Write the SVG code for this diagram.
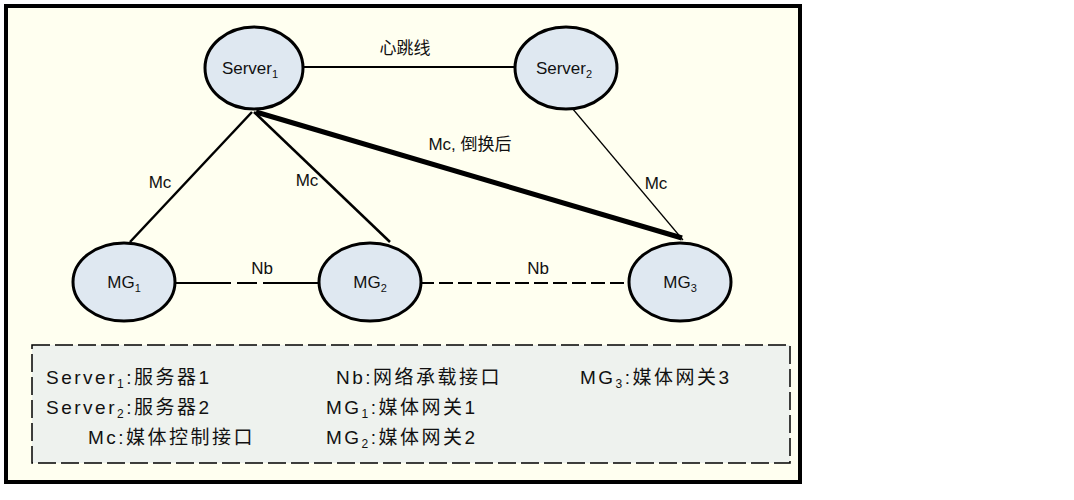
<svg xmlns="http://www.w3.org/2000/svg" width="1074" height="500" viewBox="0 0 1074 500">
<style>
.n{fill:#dfe8f1;stroke:#000;stroke-width:3}
text{font-family:"Liberation Sans","Noto Sans CJK SC",sans-serif;font-size:17px;fill:#111}
.c{text-anchor:middle}
.s{font-size:11px}
.l{stroke:#000;fill:none}
.g text{font-size:19px;letter-spacing:2.5px}
.g .s{font-size:12px}
</style>
<rect width="1074" height="500" fill="#fff"/>
<rect x="6" y="6" width="794" height="476" fill="#fffff0" stroke="#000" stroke-width="4"/>
<g id="connectors">
<line class="l" x1="302" y1="67" x2="516" y2="67" stroke-width="2"/>
<line class="l" x1="252" y1="112" x2="130" y2="242" stroke-width="2.5"/>
<line class="l" x1="254" y1="112" x2="390" y2="242" stroke-width="2.5"/>
<line class="l" x1="256" y1="112" x2="682" y2="238" stroke-width="5"/>
<line class="l" x1="572" y1="108" x2="683" y2="240" stroke-width="1.2"/>
<line class="l" x1="176" y1="283" x2="320" y2="283" stroke-width="2" stroke-dasharray="55 6 20 6"/>
<line class="l" x1="420" y1="283" x2="630" y2="283" stroke-width="2" stroke-dasharray="14 5"/>
<text x="405" y="54" class="c">心跳线</text>
<text x="160" y="188" class="c">Mc</text>
<text x="307" y="186" class="c">Mc</text>
<text x="470" y="150" class="c">Mc, 倒换后</text>
<text x="656" y="189" class="c">Mc</text>
<text x="262" y="274" class="c">Nb</text>
<text x="538" y="274" class="c">Nb</text>
</g>
<g id="server1"><ellipse class="n" cx="254" cy="68" rx="49" ry="41"/><text x="250" y="74" class="c">Server<tspan class="s" dy="4">1</tspan></text></g>
<g id="server2"><ellipse class="n" cx="566" cy="68" rx="51" ry="41"/><text x="564" y="74" class="c">Server<tspan class="s" dy="4">2</tspan></text></g>
<g id="mg1"><ellipse class="n" cx="124" cy="282" rx="51" ry="39"/><text x="124" y="288" class="c">MG<tspan class="s" dy="4">1</tspan></text></g>
<g id="mg2"><ellipse class="n" cx="370" cy="282" rx="51" ry="39"/><text x="370" y="288" class="c">MG<tspan class="s" dy="4">2</tspan></text></g>
<g id="mg3"><ellipse class="n" cx="680" cy="282" rx="51" ry="39"/><text x="680" y="288" class="c">MG<tspan class="s" dy="4">3</tspan></text></g>
<g id="legend" class="g">
<rect x="32" y="345" width="758" height="118" fill="#eef2ee" stroke="#000" stroke-width="1.5" stroke-dasharray="18 5"/>
<text x="46" y="384">Server<tspan class="s" dy="4">1</tspan><tspan dy="-4">:服务器1</tspan></text>
<text x="46" y="414">Server<tspan class="s" dy="4">2</tspan><tspan dy="-4">:服务器2</tspan></text>
<text x="88" y="444">Mc:媒体控制接口</text>
<text x="336" y="384">Nb:网络承载接口</text>
<text x="326" y="414">MG<tspan class="s" dy="4">1</tspan><tspan dy="-4">:媒体网关1</tspan></text>
<text x="326" y="444">MG<tspan class="s" dy="4">2</tspan><tspan dy="-4">:媒体网关2</tspan></text>
<text x="580" y="384">MG<tspan class="s" dy="4">3</tspan><tspan dy="-4">:媒体网关3</tspan></text>
</g>
</svg>
